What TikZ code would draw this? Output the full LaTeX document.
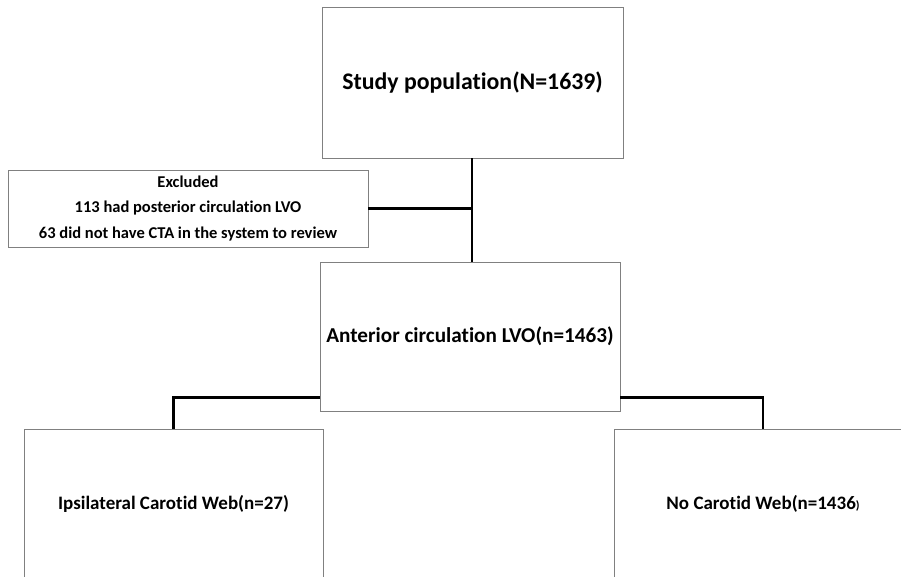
\documentclass[tikz,border=0pt]{standalone}
\usepackage{fontspec}
\setmainfont[Ligatures=NoCommon]{Carlito}
\usetikzlibrary{calc}
\begin{document}
\begin{tikzpicture}[x=1pt,y=-1pt,
  flowbox/.style={draw=black!50,line width=0.9pt,fill=white,minimum width=300pt,minimum height=150pt,inner sep=0pt,font=\bfseries\fontsize{19}{22}\selectfont},
  conn/.style={line width=2.3pt,black}]
\useasboundingbox (0,0) rectangle (901,576);
\clip (0,0) rectangle (901,576);
\node[flowbox,minimum width=301pt,minimum height=151pt] (study) at (472.5,82.5) {\fontsize{23.8}{28}\selectfont Study population(N=1639)};
\node[flowbox,minimum width=360pt,minimum height=77pt,align=center,font=\bfseries\fontsize{16.5}{25.5}\selectfont] (excl) at (188,208.5) {Excluded\\113 had posterior circulation LVO\\63 did not have CTA in the system to review};
\node[flowbox,minimum height=149pt] (ant) at (470,336.5) {\fontsize{21.2}{25}\selectfont Anterior circulation LVO(n=1463)};
\node[flowbox,minimum width=299pt] (left) at (173.5,504) {Ipsilateral Carotid Web(n=27)};
\node[flowbox,minimum width=298pt] (right) at (763,504) {No Carotid Web(n=1436{\fontsize{12}{14}\selectfont)}};
\coordinate (j) at (472,208.5);
\draw[conn] (study.south -| j) -- (j |- ant.north);
\draw[conn] (excl.east) -- (j);
\draw[conn] ($(ant.south west)+(0,-14)$) -| (left.north);
\draw[conn] ($(ant.south east)+(0,-14)$) -| (right.north);
\end{tikzpicture}
\end{document}
